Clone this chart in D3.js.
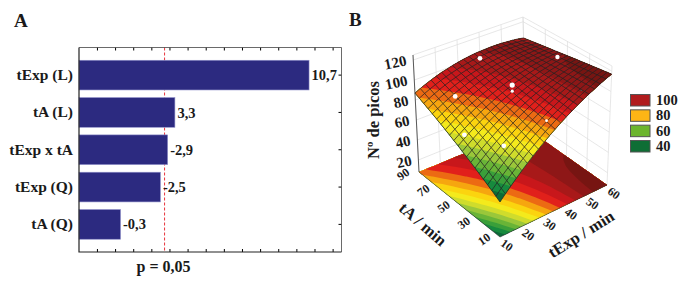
<!DOCTYPE html>
<html>
<head>
<meta charset="utf-8">
<script src="https://cdn.jsdelivr.net/npm/d3@7"></script>
<style>
  html, body { margin: 0; padding: 0; background: #fff; }
  text { font-family: "Liberation Serif", serif; font-weight: bold; fill: #1a1a1a; }
</style>
</head>
<body>
<div id="chart"></div>
<script>
// panel A
var effectNames = ["tExp (L)", "tA (L)", "tExp x tA", "tExp (Q)", "tA (Q)"];
var effectValues = [10.7, 3.3, -2.9, -2.5, -0.3];
var pLimit = 2.73;

// panel B
var tExpNodes = [10, 12.5, 15, 17.5, 20, 22.5, 25, 27.5, 30, 32.5, 35, 37.5, 40, 42.5, 45, 47.5, 50, 52.5, 55, 57.5, 60];
var tANodes = [10, 14, 18, 22, 26, 30, 34, 38, 42, 46, 50, 54, 58, 62, 66, 70, 74, 78, 82, 86, 90];
// one row per tA node, one column per tExp node
var picos = [
  [40.0,45.2,50.2,55.1,59.9,64.5,69.0,73.3,77.5,81.6,85.5,89.3,92.9,96.4,99.8,103.0,106.1,109.0,111.8,114.5,117.0],
  [42.4,47.5,52.4,57.2,61.8,66.3,70.6,74.8,78.8,82.8,86.5,90.2,93.6,97.0,100.2,103.2,106.2,108.9,111.6,114.1,116.4],
  [44.9,49.8,54.6,59.2,63.7,68.0,72.2,76.3,80.2,83.9,87.5,91.0,94.3,97.5,100.6,103.5,106.2,108.8,111.3,113.6,115.8],
  [47.3,52.1,56.7,61.2,65.6,69.7,73.8,77.7,81.5,85.1,88.5,91.9,95.0,98.1,100.9,103.7,106.3,108.7,111.0,113.2,115.2],
  [49.7,54.4,58.9,63.2,67.4,71.5,75.4,79.1,82.7,86.2,89.5,92.7,95.7,98.6,101.3,103.9,106.3,108.6,110.7,112.7,114.5],
  [52.1,56.6,61.0,65.2,69.3,73.2,76.9,80.6,84.0,87.3,90.5,93.5,96.4,99.1,101.6,104.1,106.3,108.4,110.4,112.2,113.9],
  [54.5,58.9,63.1,67.2,71.1,74.9,78.5,82.0,85.3,88.5,91.5,94.3,97.0,99.6,102.0,104.2,106.4,108.3,110.1,111.7,113.2],
  [56.9,61.1,65.3,69.2,73.0,76.6,80.1,83.4,86.6,89.6,92.4,95.2,97.7,100.1,102.3,104.4,106.4,108.1,109.8,111.3,112.5],
  [59.3,63.4,67.4,71.2,74.8,78.3,81.6,84.8,87.8,90.7,93.4,96.0,98.3,100.6,102.6,104.6,106.4,108.0,109.5,110.8,111.9],
  [61.6,65.6,69.5,73.1,76.6,80.0,83.1,86.2,89.0,91.8,94.3,96.7,99.0,101.0,102.9,104.7,106.4,107.8,109.1,110.2,111.2],
  [64.0,67.8,71.6,75.1,78.4,81.6,84.6,87.6,90.3,92.8,95.3,97.5,99.6,101.5,103.2,104.9,106.3,107.6,108.8,109.7,110.5],
  [66.3,70.0,73.6,77.0,80.2,83.3,86.2,88.9,91.5,93.9,96.2,98.3,100.2,101.9,103.5,105.0,106.3,107.4,108.4,109.2,109.8],
  [68.6,72.2,75.7,78.9,82.0,85.0,87.7,90.3,92.7,95.0,97.1,99.1,100.8,102.4,103.8,105.1,106.3,107.2,108.0,108.7,109.0],
  [71.0,74.4,77.8,80.9,83.8,86.6,89.1,91.7,93.9,96.0,98.0,99.8,101.4,102.8,104.1,105.2,106.2,107.0,107.7,108.1,108.3],
  [73.3,76.6,79.8,82.8,85.6,88.2,90.6,93.0,95.1,97.1,98.9,100.5,102.0,103.2,104.3,105.3,106.2,106.7,107.3,107.5,107.6],
  [75.6,78.8,81.9,84.7,87.3,89.8,92.1,94.3,96.3,98.1,99.8,101.3,102.5,103.6,104.6,105.4,106.1,106.5,106.9,107.0,106.8],
  [77.9,80.9,83.9,86.6,89.1,91.5,93.6,95.6,97.4,99.1,100.6,102.0,103.1,104.0,104.8,105.5,106.0,106.2,106.5,106.4,106.1],
  [80.1,83.1,85.9,88.4,90.8,93.1,95.0,97.0,98.6,100.1,101.5,102.7,103.6,104.4,105.1,105.6,105.9,106.0,106.0,105.8,105.3],
  [82.4,85.2,87.9,90.3,92.6,94.6,96.4,98.3,99.8,101.1,102.3,103.4,104.2,104.8,105.3,105.6,105.8,105.7,105.6,105.2,104.5],
  [84.7,87.4,89.9,92.2,94.3,96.2,97.9,99.5,100.9,102.1,103.2,104.1,104.7,105.2,105.5,105.7,105.7,105.4,105.2,104.6,103.7],
  [86.9,89.5,91.9,94.0,96.0,97.8,99.3,100.8,102.0,103.1,104.0,104.8,105.2,105.5,105.7,105.7,105.6,105.1,104.7,104.0,102.9]
];
var bandLimits = [0, 45, 50, 55, 60, 65, 70, 75, 80, 85, 90, 95, 100, 105, 110];
var bandColors = ["#0b6b38", "#178a3e", "#3a9f3a", "#69b437", "#9ac73a", "#cfdc2c", "#f4ea1c", "#fbd40f", "#f6a60f", "#ec6a13", "#e1201b", "#c8171b", "#a81919", "#8e1717", "#771512"];
var runTExp = [35, 35, 40, 31, 55.5, 22.5, 17.5, 13, 52.5];
var runTA = [50, 50, 90, 10, 50, 78, 22, 50, 22];
var runPicos = [102, 96, 98, 97, 113, 82, 77, 72, 100];
var runSizes = [2.6, 1.6, 2.4, 1.4, 2.2, 2.4, 2.4, 2.4, 0.8];
var runColors = ["#fff", "#fff", "#fff", "#fff", "#fff", "#fff", "#fff", "#fff", "#555"];
var zTicks = [20, 40, 60, 80, 100, 120];
var tExpTicks = [10, 20, 30, 40, 50, 60];
var tATicks = [10, 30, 50, 70, 90];
var legendLabels = ["100", "80", "60", "40"];
var legendColors = ["#b01c1e", "#fdb515", "#6cb52e", "#0f6e35"];

var svg = d3.select("#chart").append("svg").attr("width", 689).attr("height", 281).style("display", "block");

// ---- A ----
var frame = { left: 79, right: 341.5, top: 47.5, bottom: 252 };
var x = d3.scaleLinear().domain([-1.99, 12.49]).range([frame.left, frame.right]);
var y = d3.scaleBand().domain(effectNames).range([frame.top, frame.bottom]).paddingInner(0.204).paddingOuter(0.342);

svg.append("text").attr("x", 14).attr("y", 27).style("font-size", "19px").text("A");

svg.append("line")
  .attr("x1", x(pLimit)).attr("x2", x(pLimit))
  .attr("y1", frame.top).attr("y2", frame.bottom)
  .attr("stroke", "#e8343c").attr("stroke-width", 1).attr("stroke-dasharray", "3,2");

svg.selectAll(".bar").data(effectValues).enter().append("rect")
  .attr("class", "bar")
  .attr("x", x(-1.99))
  .attr("y", function(d, i) { return y(effectNames[i]); })
  .attr("width", function(d) { return x(Math.abs(d)) - x(-1.99); })
  .attr("height", y.bandwidth())
  .attr("fill", "#2c2a80")
  .attr("stroke", "#8f8fc9").attr("stroke-width", 0.6);

svg.selectAll(".val").data(effectValues).enter().append("text")
  .attr("class", "val")
  .attr("x", function(d) { return x(Math.abs(d)) + 2.5; })
  .attr("y", function(d, i) { return y(effectNames[i]) + y.bandwidth() / 2; })
  .attr("dy", "0.35em")
  .style("font-size", "14.5px")
  .text(function(d) { return String(d).replace(".", ","); });

var yLeft = svg.append("g").attr("transform", "translate(" + frame.left + ",0)")
  .call(d3.axisLeft(y).tickSize(0).tickPadding(6));
yLeft.select(".domain").remove();
yLeft.selectAll("text").style("font-size", "15.5px");

svg.append("g").attr("transform", "translate(0," + frame.bottom + ")")
  .call(d3.axisBottom(x).tickValues(d3.range(-1, 13)).tickSize(-3).tickFormat("")).select(".domain").remove();
svg.append("g").attr("transform", "translate(0," + frame.top + ")")
  .call(d3.axisTop(x).tickValues(d3.range(-1, 13)).tickSize(-3).tickFormat("")).select(".domain").remove();
svg.append("g").attr("transform", "translate(" + frame.right + ",0)")
  .call(d3.axisRight(y).tickSize(-3).tickFormat("")).select(".domain").remove();

svg.append("path")
  .attr("d", "M" + frame.left + "," + frame.top + "V" + frame.bottom + "H" + frame.right)
  .attr("fill", "none").attr("stroke", "#222").attr("stroke-width", 1.2);
svg.append("path")
  .attr("d", "M" + frame.left + "," + frame.top + "H" + frame.right + "V" + frame.bottom)
  .attr("fill", "none").attr("stroke", "#444").attr("stroke-width", 0.8);

svg.append("text").attr("x", x(pLimit) - 1).attr("y", 272)
  .attr("text-anchor", "middle").style("font-size", "16px").text("p = 0,05");

// ---- B ----
svg.append("text").attr("x", 349).attr("y", 26).style("font-size", "19px").text("B");

var uScale = d3.scaleLinear().domain([10, 60]).range([0, 1]);
var vScale = d3.scaleLinear().domain([10, 90]).range([0, 1]);
var wScale = d3.scaleLinear().domain([8, 125]).range([0, 1]);

// box corners on screen: front, right, left, back, floor then lid
var floorBox = [[500, 237], [607, 185], [419, 172], [526, 128]];
var lidBox = [[500, 109], [612, 66], [413, 55], [523, 17]];

function project(tExp, tA, z) {
  var u = uScale(tExp), v = vScale(tA), w = wScale(z);
  function corner(q, k) {
    return (1 - u) * (1 - v) * q[0][k] + u * (1 - v) * q[1][k] + (1 - u) * v * q[2][k] + u * v * q[3][k];
  }
  return [
    corner(floorBox, 0) * (1 - w) + corner(lidBox, 0) * w,
    corner(floorBox, 1) * (1 - w) + corner(lidBox, 1) * w
  ];
}

// back walls
var wall = svg.append("g").attr("fill", "none").attr("stroke", "#dcdcdc").attr("stroke-width", 0.7);
var straight = d3.line();
zTicks.concat([125]).forEach(function(z) {
  wall.append("path").attr("d", straight([project(10, 90, z), project(60, 90, z), project(60, 10, z)]));
});
tExpTicks.forEach(function(t) {
  wall.append("path").attr("d", straight([project(t, 90, 8), project(t, 90, 125)]));
});
tATicks.forEach(function(t) {
  wall.append("path").attr("d", straight([project(60, t, 8), project(60, t, 125)]));
});

// contour coordinates -> table position, then screen
var flat = d3.merge(picos);
var contours = d3.contours().size([tExpNodes.length, tANodes.length]).thresholds(bandLimits)(flat);
var lastNode = tExpNodes.length - 1;

function tableHeight(cx, cy) {
  var i0 = Math.min(Math.floor(cx), lastNode - 1), j0 = Math.min(Math.floor(cy), lastNode - 1);
  var fx = cx - i0, fy = cy - j0;
  return d3.interpolateNumber(
    d3.interpolateNumber(picos[j0][i0], picos[j0][i0 + 1])(fx),
    d3.interpolateNumber(picos[j0 + 1][i0], picos[j0 + 1][i0 + 1])(fx)
  )(fy);
}

function bandPath(onSurface) {
  return d3.geoPath(d3.geoTransform({
    point: function(cx, cy) {
      var px = Math.max(0, Math.min(lastNode, cx - 0.5));
      var py = Math.max(0, Math.min(lastNode, cy - 0.5));
      var tExp = 10 + px * 2.5, tA = 10 + py * 4;
      var p = project(tExp, tA, onSurface ? tableHeight(px, py) : 8);
      this.stream.point(p[0], p[1]);
    }
  }));
}

svg.append("g").selectAll("path").data(contours).enter().append("path")
  .attr("d", bandPath(false))
  .attr("fill", function(d, i) { return bandColors[i]; });

// floor edges
svg.append("path").attr("d", straight([project(10, 90, 8), project(10, 10, 8), project(60, 10, 8)]))
  .attr("fill", "none").attr("stroke", "#333").attr("stroke-width", 0.6);

// surface
svg.append("g").selectAll("path").data(contours).enter().append("path")
  .attr("d", bandPath(true))
  .attr("fill", function(d, i) { return bandColors[i]; });

var mesh = svg.append("g").attr("fill", "none").attr("stroke", "#222").attr("stroke-width", 0.8).attr("stroke-opacity", 0.9);
tANodes.forEach(function(tA, j) {
  mesh.append("path").attr("d", straight(tExpNodes.map(function(tExp, i) { return project(tExp, tA, picos[j][i]); })));
});
tExpNodes.forEach(function(tExp, i) {
  mesh.append("path").attr("d", straight(tANodes.map(function(tA, j) { return project(tExp, tA, picos[j][i]); })));
});

svg.append("g").selectAll("circle").data(runPicos).enter().append("circle")
  .attr("cx", function(d, i) { return project(runTExp[i], runTA[i], d)[0]; })
  .attr("cy", function(d, i) { return project(runTExp[i], runTA[i], d)[1]; })
  .attr("r", function(d, i) { return runSizes[i]; })
  .attr("fill", function(d, i) { return runColors[i]; });

// z axis
svg.append("path").attr("d", straight([project(10, 90, 8), project(10, 90, 125)]))
  .attr("fill", "none").attr("stroke", "#333").attr("stroke-width", 0.8);
zTicks.forEach(function(z) {
  var p = project(10, 90, z);
  svg.append("text").attr("text-anchor", "end").attr("dy", "0.35em")
    .attr("transform", "translate(" + (p[0] - 7) + "," + p[1] + ") rotate(-12)")
    .style("font-size", "15px").text(z);
});

tExpTicks.forEach(function(t) {
  var p = project(t, 10, 8);
  svg.append("text").attr("text-anchor", "middle").attr("dy", "0.35em")
    .attr("transform", "translate(" + (p[0] + 7) + "," + (p[1] + 8) + ") rotate(35)")
    .style("font-size", "12px").text(t);
});
tATicks.forEach(function(t) {
  var p = project(10, t, 8);
  svg.append("text").attr("text-anchor", "middle").attr("dy", "0.35em")
    .attr("transform", "translate(" + (p[0] - 16) + "," + (p[1] + 2) + ") rotate(-35)")
    .style("font-size", "12px").text(t);
});

svg.append("text").attr("text-anchor", "middle").attr("transform", "translate(373,120) rotate(-90)").attr("dy", "0.35em")
  .style("font-size", "16.5px").text("Nº de picos");
svg.append("text").attr("text-anchor", "middle").attr("transform", "translate(423,224) rotate(41)").attr("dy", "0.35em")
  .style("font-size", "16.5px").text("tA / min");
svg.append("text").attr("text-anchor", "middle").attr("transform", "translate(581,234) rotate(-32)").attr("dy", "0.35em")
  .style("font-size", "16.5px").text("tExp / min");

// legend
var legendY = d3.scalePoint().domain(legendLabels).range([100, 146]);
legendLabels.forEach(function(label, i) {
  svg.append("rect").attr("x", 630.5).attr("y", legendY(label) - 5.5).attr("width", 19.5).attr("height", 11.5)
    .attr("fill", legendColors[i]).attr("stroke", "#555").attr("stroke-width", 1);
  svg.append("text").attr("x", 656).attr("y", legendY(label)).attr("dy", "0.35em")
    .style("font-size", "14.5px").text(label);
});
</script>
</body>
</html>
